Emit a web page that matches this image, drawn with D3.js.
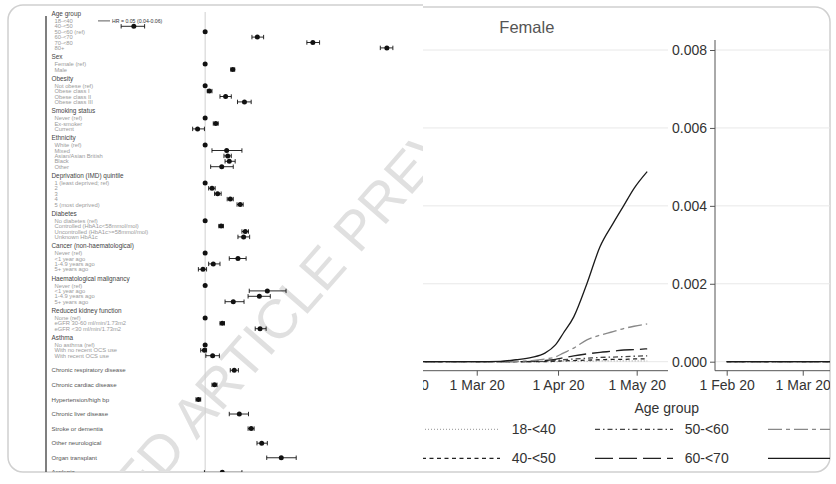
<!DOCTYPE html>
<meta charset="utf-8">
<head>
<style>
body { margin: 0; background: #fff; }
svg { display: block; font-family: "Liberation Sans", Arial, Helvetica, sans-serif; }
.card { fill: #fff; stroke: #d0d0d0; stroke-width: 1.5; }
.grid line { stroke: #e8e8e8; stroke-width: 1; }
.axis text { font-size: 14px; fill: #333; }
.axis line { stroke: #555; }
.hdr { font-size: 6.4px; fill: #444; }
.itm { font-size: 5.8px; fill: #9a9a9a; }
.sgl { font-size: 6.1px; fill: #555; }
.leg { font-size: 14px; fill: #333; }
</style>
</head>
<body>
<script src="https://cdn.jsdelivr.net/npm/d3@7"></script>
<script>

// ---- forest plot (left picture) ----
var groupNames = ["Age group", "Sex", "Obesity", "Smoking status", "Ethnicity",
    "Deprivation (IMD) quintile", "Diabetes", "Cancer (non-haematological)",
    "Haematological malignancy", "Reduced kidney function", "Asthma",
    "Chronic respiratory disease", "Chronic cardiac disease", "Hypertension/high bp",
    "Chronic liver disease", "Stroke or dementia", "Other neurological",
    "Organ transplant", "Asplenia"];

var itemLabels = [
    ["18-<40", "40-<50", "50-<60 (ref)", "60-<70", "70-<80", "80+"],
    ["Female (ref)", "Male"],
    ["Not obese (ref)", "Obese class I", "Obese class II", "Obese class III"],
    ["Never (ref)", "Ex-smoker", "Current"],
    ["White (ref)", "Mixed", "Asian/Asian British", "Black", "Other"],
    ["1 (least deprived; ref)", "2", "3", "4", "5 (most deprived)"],
    ["No diabetes (ref)", "Controlled (HbA1c<58mmol/mol)", "Uncontrolled (HbA1c>=58mmol/mol)", "Unknown HbA1c"],
    ["Never (ref)", "<1 year ago", "1-4.9 years ago", "5+ years ago"],
    ["Never (ref)", "<1 year ago", "1-4.9 years ago", "5+ years ago"],
    ["None (ref)", "eGFR 30-60 ml/min/1.73m2", "eGFR <30 ml/min/1.73m2"],
    ["No asthma (ref)", "With no recent OCS use", "With recent OCS use"],
    [], [], [], [], [], [], [], []
];

var hrEst = [
    [null, 0.37, 1, 2.07, 4.49, 12.6],
    [1, 1.47],
    [1, 1.06, 1.33, 1.73],
    [1, 1.16, 0.90],
    [1, 1.35, 1.37, 1.40, 1.26],
    [1, 1.10, 1.19, 1.42, 1.63],
    [1, 1.25, 1.75, 1.71],
    [1, 1.58, 1.12, 0.97],
    [1, 2.38, 2.13, 1.48],
    [1, 1.27, 2.15],
    [1, 0.99, 1.11],
    [1.50], [1.14], [0.91], [1.61], [1.90], [2.20], [2.89], [1.27]
];
var hrLow = [
    [null, 0.31, 1, 1.92, 4.13, 11.5],
    [1, 1.43],
    [1, 1.03, 1.23, 1.57],
    [1, 1.12, 0.84],
    [1, 1.10, 1.30, 1.32, 1.08],
    [1, 1.05, 1.14, 1.36, 1.56],
    [1, 1.21, 1.67, 1.58],
    [1, 1.40, 1.05, 0.91],
    [1, 1.85, 1.82, 1.32],
    [1, 1.23, 2.01],
    [1, 0.94, 1.01],
    [1.42], [1.10], [0.88], [1.40], [1.82], [2.06], [2.36], [0.99]
];
var hrHigh = [
    [null, 0.43, 1, 2.26, 4.93, 13.7],
    [1, 1.51],
    [1, 1.10, 1.44, 1.90],
    [1, 1.20, 0.99],
    [1, 1.67, 1.44, 1.52, 1.48],
    [1, 1.15, 1.25, 1.48, 1.70],
    [1, 1.29, 1.83, 1.86],
    [1, 1.77, 1.23, 1.02],
    [1, 3.09, 2.48, 1.72],
    [1, 1.31, 2.34],
    [1, 1.02, 1.22],
    [1.59], [1.18], [0.94], [1.83], [1.98], [2.38], [3.56], [1.67]
];
var offScaleNote = "HR = 0.05 (0.04-0.06)";

// ---- cumulative incidence (right picture) ----
var ageGroups = ["18-<40", "40-<50", "50-<60", "60-<70", "70-<80", "80+"];
var femaleDates = ["2020-02-01", "2020-03-01", "2020-03-10", "2020-03-16", "2020-03-22",
    "2020-03-27", "2020-03-31", "2020-04-03", "2020-04-07", "2020-04-12", "2020-04-17",
    "2020-04-22", "2020-04-26", "2020-04-30", "2020-05-05"];
var femaleValues = [
    [0, 0, 0, 0, 0, 0, 0, 0.00001, 0.00001, 0.00001, 0.00002, 0.00002, 0.00002, 0.00002, 0.00002],
    [0, 0, 0, 0, 0, 0, 0.00001, 0.00002, 0.00003, 0.00004, 0.00005, 0.00006, 0.00006, 0.00007, 0.00007],
    [0, 0, 0, 0, 0, 0.00001, 0.00003, 0.00005, 0.00007, 0.00009, 0.00011, 0.00012, 0.00013, 0.00014, 0.00015],
    [0, 0, 0, 0, 0.00001, 0.00003, 0.00006, 0.00010, 0.00015, 0.00020, 0.00024, 0.00027, 0.00030, 0.00031, 0.00033],
    [0, 0, 0, 0.00001, 0.00003, 0.00007, 0.00012, 0.00022, 0.00035, 0.00056, 0.00068, 0.00077, 0.00085, 0.00091, 0.00097],
    [0, 0, 0.00001, 0.00005, 0.00011, 0.00022, 0.00043, 0.00073, 0.00115, 0.00200, 0.00295, 0.00355, 0.00400, 0.00445, 0.00488]
];
var maleDates = ["2020-02-01", "2020-02-15", "2020-03-01", "2020-03-12"];
var maleValues = [
    [0, 0, 0, 0], [0, 0, 0, 0], [0, 0, 0, 0], [0, 0, 0, 0], [0, 0, 0, 0], [0, 0, 0, 0]
];
var yTicks = [0, 0.002, 0.004, 0.006, 0.008];
var xTicks = ["2020-02-01", "2020-03-01", "2020-04-01", "2020-05-01"];

// line styles per age group
var lineDash = ["1,2", "4,3.5", "5,3,1.5,3", "18,6", "14,4,4,4", null];
var lineColor = ["#a8a8a8", "#222", "#444", "#222", "#888", "#1a1a1a"];

var W = 836, H = 484;
var svg = d3.select("body").append("svg").attr("width", W).attr("height", H);
var defs = svg.append("defs");
defs.append("clipPath").attr("id", "clipL")
    .append("rect").attr("x", 0).attr("y", 5).attr("width", 423).attr("height", 467);
defs.append("clipPath").attr("id", "clipR")
    .append("rect").attr("x", 423).attr("y", 7).attr("width", 407).attr("height", 465);

// cards: left one is a rounded box, right one covers it from x = 423 on
svg.append("rect").attr("class", "card")
    .attr("x", 8).attr("y", 5).attr("width", 440).attr("height", 467).attr("rx", 15);
svg.append("rect").attr("x", 423).attr("y", 0).attr("width", 420).attr("height", H).attr("fill", "#fff");
svg.append("path")
    .attr("d", "M423,7 H815 A15,15 0 0 1 830,22 V457 A15,15 0 0 1 815,472 H423")
    .attr("fill", "none").attr("stroke", "#d0d0d0").attr("stroke-width", 1.5);

// ---------- left: forest plot ----------
var gL = svg.append("g").attr("clip-path", "url(#clipL)");

var xHR = d3.scaleLog().domain([0.1, 20]).range([40, 420]);
var slotY = d3.scaleLinear().domain([0, 1]).range([20.9, 26.3]);

var rows = [], headers = [];
var prev = null;
groupNames.forEach(function(g, gi) {
    var items = itemLabels[gi];
    if (items.length === 0) {
        var s = prev + 2.7;
        rows.push({label: g, cls: "sgl", slot: s, hr: hrEst[gi][0], lo: hrLow[gi][0], hi: hrHigh[gi][0]});
        prev = s;
    } else {
        var s0 = prev === null ? 0 : prev + 3;
        headers.push({label: g, slot: s0 - 1.3});
        items.forEach(function(lab, k) {
            rows.push({label: lab, cls: "itm", slot: s0 + k, hr: hrEst[gi][k], lo: hrLow[gi][k], hi: hrHigh[gi][k]});
        });
        prev = s0 + items.length - 1;
    }
});

// watermark
gL.append("text")
    .attr("transform", "translate(244,357) rotate(-48.8)")
    .attr("text-anchor", "middle")
    .attr("dy", "0.35em")
    .attr("font-size", 55)
    .attr("fill", "#e0e0e0")
    .text("ACCEPTED ARTICLE PREVIEW");

// reference line and left rule
gL.append("line")
    .attr("x1", xHR(1)).attr("x2", xHR(1))
    .attr("y1", 12).attr("y2", 472)
    .attr("stroke", "#cfcfcf").attr("stroke-width", 1);
gL.append("line")
    .attr("x1", 46).attr("x2", 46)
    .attr("y1", 16).attr("y2", 472)
    .attr("stroke", "#555").attr("stroke-width", 1.5);

gL.selectAll(".hdr").data(headers).enter().append("text")
    .attr("class", "hdr")
    .attr("x", 51.5)
    .attr("y", function(d) { return slotY(d.slot); })
    .attr("dy", "0.35em")
    .text(function(d) { return d.label; });

gL.selectAll(".rowlab").data(rows).enter().append("text")
    .attr("class", function(d) { return "rowlab " + d.cls; })
    .attr("x", function(d) { return d.cls === "sgl" ? 51.5 : 54.5; })
    .attr("y", function(d) { return slotY(d.slot); })
    .attr("dy", "0.35em")
    .text(function(d) { return d.label; });

var withCI = rows.filter(function(d) { return d.hr !== null && d.lo !== d.hi; });
var bars = gL.selectAll(".ci").data(withCI).enter().append("g").attr("class", "ci")
    .attr("stroke", "#111").attr("stroke-width", 0.9);
bars.append("line")
    .attr("x1", function(d) { return xHR(d.lo); })
    .attr("x2", function(d) { return xHR(d.hi); })
    .attr("y1", function(d) { return slotY(d.slot); })
    .attr("y2", function(d) { return slotY(d.slot); });
bars.append("line")
    .attr("x1", function(d) { return xHR(d.lo); })
    .attr("x2", function(d) { return xHR(d.lo); })
    .attr("y1", function(d) { return slotY(d.slot) - 2.2; })
    .attr("y2", function(d) { return slotY(d.slot) + 2.2; });
bars.append("line")
    .attr("x1", function(d) { return xHR(d.hi); })
    .attr("x2", function(d) { return xHR(d.hi); })
    .attr("y1", function(d) { return slotY(d.slot) - 2.2; })
    .attr("y2", function(d) { return slotY(d.slot) + 2.2; });

gL.selectAll(".pt").data(rows.filter(function(d) { return d.hr !== null; })).enter().append("circle")
    .attr("class", "pt")
    .attr("cx", function(d) { return xHR(d.hr); })
    .attr("cy", function(d) { return slotY(d.slot); })
    .attr("r", 2.5)
    .attr("fill", "#111");

// off-scale row (18-<40)
var off = rows.filter(function(d) { return d.hr === null; })[0];
gL.append("line")
    .attr("x1", 98).attr("x2", 110)
    .attr("y1", slotY(off.slot)).attr("y2", slotY(off.slot))
    .attr("stroke", "#333").attr("stroke-width", 0.8);
gL.append("text")
    .attr("x", 112).attr("y", slotY(off.slot)).attr("dy", "0.35em")
    .attr("font-size", 5.2).attr("fill", "#333")
    .text(offScaleNote);

// ---------- right: cumulative incidence ----------
var gR = svg.append("g").attr("clip-path", "url(#clipR)");
var parse = d3.timeParse("%Y-%m-%d");

var y = d3.scaleLinear().domain([0, 0.008]).range([361.7, 50]);
var xFem = d3.scaleTime().domain([parse("2020-02-01"), parse("2020-05-01")]).range([400.7, 636.7]);
var xMal = d3.scaleTime().domain([parse("2020-02-01"), parse("2020-05-01")]).range([726.7, 962.7]);

gR.append("text")
    .attr("x", 499.3).attr("y", 32.7)
    .attr("font-size", 16.5).attr("fill", "#555")
    .text("Female");

var panels = [
    {x: xFem, left: 389, right: 668, dates: femaleDates, values: femaleValues},
    {x: xMal, left: 715, right: 994, dates: maleDates, values: maleValues}
];

panels.forEach(function(p, pi) {
    gR.append("g").attr("class", "grid")
        .selectAll("line").data(yTicks).enter().append("line")
        .attr("x1", p.left).attr("x2", p.right)
        .attr("y1", function(d) { return y(d); })
        .attr("y2", function(d) { return y(d); });

    var xa = gR.append("g").attr("class", "axis")
        .attr("transform", "translate(0,370.7)")
        .call(d3.axisBottom(p.x)
            .tickValues(xTicks.map(parse))
            .tickFormat(d3.timeFormat("%-d %b %y"))
            .tickSize(5).tickSizeOuter(0).tickPadding(4));
    xa.select(".domain").remove();
    gR.append("line")
        .attr("x1", p.left).attr("x2", p.right)
        .attr("y1", 370.7).attr("y2", 370.7)
        .attr("stroke", "#555").attr("stroke-width", 1);

    var ya = gR.append("g").attr("class", "axis")
        .attr("transform", "translate(" + p.left + ",0)")
        .call(d3.axisLeft(y).tickValues(yTicks)
            .tickFormat(d3.format(".3f"))
            .tickSize(5).tickSizeOuter(0).tickPadding(3));
    ya.select(".domain").remove();
    gR.append("line")
        .attr("x1", p.left).attr("x2", p.left)
        .attr("y1", 40).attr("y2", 370.7)
        .attr("stroke", "#555").attr("stroke-width", 1);

    var line = d3.line()
        .x(function(d) { return p.x(d[0]); })
        .y(function(d) { return y(d[1]); })
        .curve(d3.curveMonotoneX);

    ageGroups.forEach(function(a, i) {
        var pts = p.dates.map(function(dt, k) { return [parse(dt), p.values[i][k]]; });
        gR.append("path")
            .attr("d", line(pts))
            .attr("fill", "none")
            .attr("stroke", lineColor[i])
            .attr("stroke-width", 1.3)
            .attr("stroke-dasharray", lineDash[i]);
    });
});

// legend
gR.append("text").attr("class", "leg")
    .attr("x", 666.7).attr("y", 413).attr("text-anchor", "middle")
    .text("Age group");

var leg = gR.selectAll(".legitem").data(ageGroups).enter().append("g")
    .attr("class", "legitem")
    .attr("transform", function(d, i) {
        var col = Math.floor(i / 2), row = i % 2;
        return "translate(" + (422 + col * 173) + "," + (429.3 + row * 29) + ")";
    });
leg.append("line")
    .attr("x1", 0).attr("x2", 78)
    .attr("stroke", function(d, i) { return lineColor[i]; })
    .attr("stroke-width", 1.3)
    .attr("stroke-dasharray", function(d, i) { return lineDash[i]; });
leg.append("text").attr("class", "leg")
    .attr("x", 89.7).attr("dy", "0.35em")
    .text(function(d) { return d; });

</script>
</body>
